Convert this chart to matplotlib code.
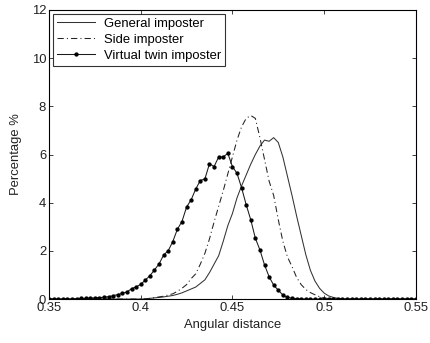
import numpy as np
import matplotlib
matplotlib.use("Agg")
import matplotlib.pyplot as plt

plt.rcParams['font.family'] = ['Liberation Sans', 'DejaVu Sans']

# angular distance grid (0.35 .. 0.55, step 0.0025)
angular_distance = np.round(np.arange(81) * 0.0025 + 0.35, 4)

general_imposter = [
    0, 0, 0, 0, 0, 0, 0, 0, 0, 0,            # 0.35 - 0.3725
    0, 0, 0, 0, 0, 0, 0, 0, 0, 0,            # 0.375 - 0.3975
    0, 0.01, 0.03, 0.05, 0.07, 0.09, 0.12, 0.15, 0.2, 0.26,   # 0.40 - 0.4225
    0.34, 0.42, 0.5, 0.65, 0.8, 1.1, 1.45, 1.8, 2.4, 3.05,    # 0.425 - 0.4475
    3.55, 4.2, 4.7, 5.15, 5.6, 6.0, 6.35, 6.6, 6.55, 6.7,     # 0.45 - 0.4725
    6.5, 5.9, 5.1, 4.3, 3.45, 2.65, 1.85, 1.2, 0.75, 0.45,    # 0.475 - 0.4975
    0.25, 0.13, 0.07, 0.03, 0.01, 0, 0, 0, 0, 0,              # 0.50 - 0.5225
    0, 0, 0, 0, 0, 0, 0, 0, 0, 0,                             # 0.525 - 0.5475
    0,                                                        # 0.55
]

side_imposter = [
    0, 0, 0, 0, 0, 0, 0, 0, 0, 0,
    0, 0, 0, 0, 0, 0, 0, 0, 0, 0,
    0.01, 0.01, 0.03, 0.06, 0.09, 0.12, 0.17, 0.22, 0.32, 0.45,
    0.6, 0.85, 1.05, 1.45, 1.9, 2.5, 3.2, 3.85, 4.5, 5.2,
    5.9, 6.6, 7.15, 7.5, 7.62, 7.5, 6.7, 5.8, 4.9, 4.3,
    3.3, 2.4, 1.75, 1.35, 0.9, 0.6, 0.4, 0.27, 0.18, 0.1,
    0.05, 0.02, 0.01, 0, 0, 0, 0, 0, 0, 0,
    0, 0, 0, 0, 0, 0, 0, 0, 0, 0,
    0,
]

virtual_twin_imposter = [
    0, 0, 0, 0, 0, 0.01, 0.02, 0.03, 0.03, 0.04,
    0.05, 0.06, 0.08, 0.1, 0.14, 0.19, 0.24, 0.3, 0.43, 0.51,
    0.61, 0.79, 0.97, 1.21, 1.46, 1.83, 2.01, 2.39, 2.9, 3.22,
    3.82, 4.12, 4.57, 4.92, 4.99, 5.62, 5.5, 5.9, 5.9, 6.05,
    5.5, 5.22, 4.62, 3.92, 3.29, 2.53, 2.04, 1.42, 0.93, 0.58,
    0.37, 0.17, 0.07, 0.04, 0.02, 0.01, 0, 0, 0, 0,
    0, 0, 0, 0, 0, 0, 0, 0, 0, 0,
    0, 0, 0, 0, 0, 0, 0, 0, 0, 0,
    0,
]

x_ticks = [0.35, 0.4, 0.45, 0.5, 0.55]
x_tick_labels = ["0.35", "0.4", "0.45", "0.5", "0.55"]
y_ticks = [0, 2, 4, 6, 8, 10, 12]
y_tick_labels = ["0", "2", "4", "6", "8", "10", "12"]

FS = 9.4
TXT = '#222222'

fig = plt.figure(figsize=(4.30, 3.43), dpi=100)
ax = fig.add_axes([0.114, 0.128, 0.853, 0.843])

ax.plot(angular_distance, general_imposter, '-', color='#333333', lw=0.75,
        label='General imposter')
ax.plot(angular_distance, side_imposter, '-.', color='#222222', lw=0.75,
        dashes=(6, 3, 1, 3), label='Side imposter')
ax.plot(angular_distance, virtual_twin_imposter, '-', color='#1a1a1a', lw=0.75,
        marker='o', ms=2.1, mfc='black', mec='black',
        label='Virtual twin imposter')

ax.set_xlim(0.35, 0.55)
ax.set_ylim(0, 12)
ax.set_xticks(x_ticks)
ax.set_xticklabels(x_tick_labels)
ax.set_yticks(y_ticks)
ax.set_yticklabels(y_tick_labels)
ax.tick_params(direction='in', top=True, right=True, length=3, width=0.6,
               labelsize=FS, colors=TXT, pad=2)
for s in ax.spines.values():
    s.set_linewidth(0.8)
    s.set_color('black')

ax.set_xlabel('Angular distance', fontsize=FS, color=TXT, labelpad=4)
ax.set_ylabel('Percentage %', fontsize=FS, color=TXT, labelpad=7)

leg = ax.legend(loc='upper left', fontsize=FS, frameon=True, fancybox=False,
                handlelength=2.9, handletextpad=0.7, borderpad=0.3,
                labelspacing=0.3, borderaxespad=0.3)
leg.get_frame().set_edgecolor('black')
leg.get_frame().set_linewidth(0.8)

fig.savefig('out.png', dpi=100)
